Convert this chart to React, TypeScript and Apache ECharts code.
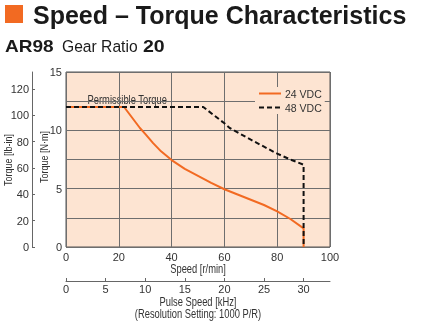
import React, { useEffect, useRef } from "react";
import * as echarts from "echarts";

const speedTicks = [0, 20, 40, 60, 80, 100];
const lbInTicks = [0, 20, 40, 60, 80, 100, 120];
const pulseTicks = [0, 5, 10, 15, 20, 25, 30];

// [speed r/min, torque N·m]
const vdc24: [number, number][] = [
  [0, 12], [22, 12], [25, 11.1], [28, 10.2], [30, 9.7], [33, 8.9], [36, 8.2],
  [40, 7.45], [45, 6.7], [50, 6.1], [55, 5.5], [60, 4.95], [65, 4.5], [70, 4.05],
  [75, 3.6], [80, 3.05], [85, 2.4], [90, 1.6], [90, 0],
];
const vdc48: [number, number][] = [
  [0, 12], [52, 12], [56, 11.3], [60, 10.6], [62, 10.2], [66, 9.7], [70, 9.2],
  [75, 8.6], [80, 8.0], [85, 7.5], [90, 7.05], [90, 0],
];

const maxSpeed = 100;
const maxTorque = 15;
const gearRatio = 20;
const resolution = 1000; // P/R
const nmToLbIn = 8.8507;
const pulseMax = (maxSpeed * gearRatio) / 60 * resolution / 1000;

const SANS = "'Liberation Sans', Arial, sans-serif";
const ORANGE = "#f26a22";
const PEACH = "#fde4d2";
const GRID = "#6e6e6e";
const TXT = "#333333";
const NX = 0.78; // horizontal squeeze to imitate the condensed face

export default function App() {
  const ref = useRef<HTMLDivElement>(null);
  useEffect(() => {
    if (!ref.current) return;
    const chart = echarts.init(ref.current, undefined, { renderer: "svg" });
    const lbl = { fontFamily: SANS, fontSize: 11, color: TXT };
    const small = (text: string, x: number, y: number, extra: any = {}, size = 12) => ({
      type: "text", x, y, scaleX: NX, ...extra,
      style: { text, font: `${size}px ${SANS}`, fill: TXT, align: "center", verticalAlign: "middle", ...(extra.style || {}) },
    });
    chart.setOption({
      animation: false,
      grid: {
        left: 66, top: 72, width: 264, height: 175,
        show: true, backgroundColor: PEACH, borderColor: "#555", borderWidth: 1,
      },
      legend: {
        data: ["24 VDC", "48 VDC"],
        orient: "vertical",
        left: 255, top: 87,
        backgroundColor: PEACH,
        padding: [1, 3, 1, 3],
        itemWidth: 22, itemHeight: 10, itemGap: 3,
        itemStyle: { opacity: 0 },
        textStyle: { fontFamily: SANS, fontSize: 10.5, color: TXT, padding: [0, 0, 0, -1] },
      },
      xAxis: [
        {
          type: "value", min: 0, max: maxSpeed, interval: 20, position: "bottom",
          axisLine: { show: false }, axisTick: { show: false },
          axisLabel: { ...lbl, margin: 4, customValues: speedTicks },
          splitLine: { show: true, lineStyle: { color: GRID, width: 1 } },
        },
        {
          type: "value", min: 0, max: pulseMax, position: "bottom", offset: 34,
          axisLine: { show: true, onZero: false, lineStyle: { color: "#666", width: 1 } },
          axisTick: { show: true, inside: true, length: 3, customValues: pulseTicks, lineStyle: { color: "#666" } },
          axisLabel: { ...lbl, margin: 2, customValues: pulseTicks },
          splitLine: { show: false },
        },
      ],
      yAxis: [
        {
          type: "value", min: 0, max: maxTorque, interval: 2.5, position: "left",
          axisLine: { show: false }, axisTick: { show: false },
          axisLabel: { ...lbl, margin: 4, formatter: (v: number) => (v % 5 === 0 ? String(v) : "") },
          splitLine: { show: true, lineStyle: { color: GRID, width: 1 } },
        },
        {
          type: "value", min: 0, max: maxTorque * nmToLbIn, position: "left", offset: 34,
          axisLine: { show: true, onZero: false, lineStyle: { color: "#666", width: 1 } },
          axisTick: { show: true, inside: true, length: 3, customValues: lbInTicks, lineStyle: { color: "#666" } },
          axisLabel: { ...lbl, margin: 3, customValues: lbInTicks },
          splitLine: { show: false },
        },
      ],
      series: [
        {
          name: "24 VDC", type: "line", data: vdc24, xAxisIndex: 0, yAxisIndex: 0,
          showSymbol: false, symbol: "none", smooth: false,
          lineStyle: { color: ORANGE, width: 2 }, itemStyle: { color: ORANGE },
        },
        {
          name: "48 VDC", type: "line", data: vdc48, xAxisIndex: 0, yAxisIndex: 0,
          showSymbol: false, symbol: "none",
          lineStyle: { color: "#111", width: 2, type: [5, 3] }, itemStyle: { color: "#111" },
        },
      ],
      graphic: [
        { type: "rect", shape: { x: 5, y: 5, width: 18, height: 18 }, style: { fill: ORANGE } },
        {
          type: "text", x: 33, y: 15,
          style: { text: "Speed – Torque Characteristics", font: `bold 25px ${SANS}`, fill: "#1a1a1a", verticalAlign: "middle" },
        },
        {
          type: "text", x: 5, y: 46, scaleX: 1.12,
          style: { text: "AR98", font: `bold 17px ${SANS}`, fill: "#1a1a1a", verticalAlign: "middle" },
        },
        {
          type: "text", x: 62, y: 46, scaleX: 0.92,
          style: { text: "Gear Ratio", font: `17px ${SANS}`, fill: "#1a1a1a", verticalAlign: "middle" },
        },
        {
          type: "text", x: 143, y: 46, scaleX: 1.15,
          style: { text: "20", font: `bold 17px ${SANS}`, fill: "#1a1a1a", verticalAlign: "middle" },
        },
        small("Torque [lb-in]", 8, 160, { rotation: Math.PI / 2 }, 11.5),
        small("Torque [N·m]", 44, 157, { rotation: Math.PI / 2 }, 11.5),
        small("Speed [r/min]", 198, 269),
        small("Pulse Speed [kHz]", 198, 302),
        small("(Resolution Setting: 1000 P/R)", 198, 314),
        small("Permissible Torque", 86, 100, {
          style: { align: "left", backgroundColor: PEACH, padding: [0, 2, 0, 2] },
        }),
      ],
    });
    return () => chart.dispose();
  }, []);
  return <div ref={ref} style={{ position: "fixed", left: 0, top: 0, width: 425, height: 325 }} />;
}
